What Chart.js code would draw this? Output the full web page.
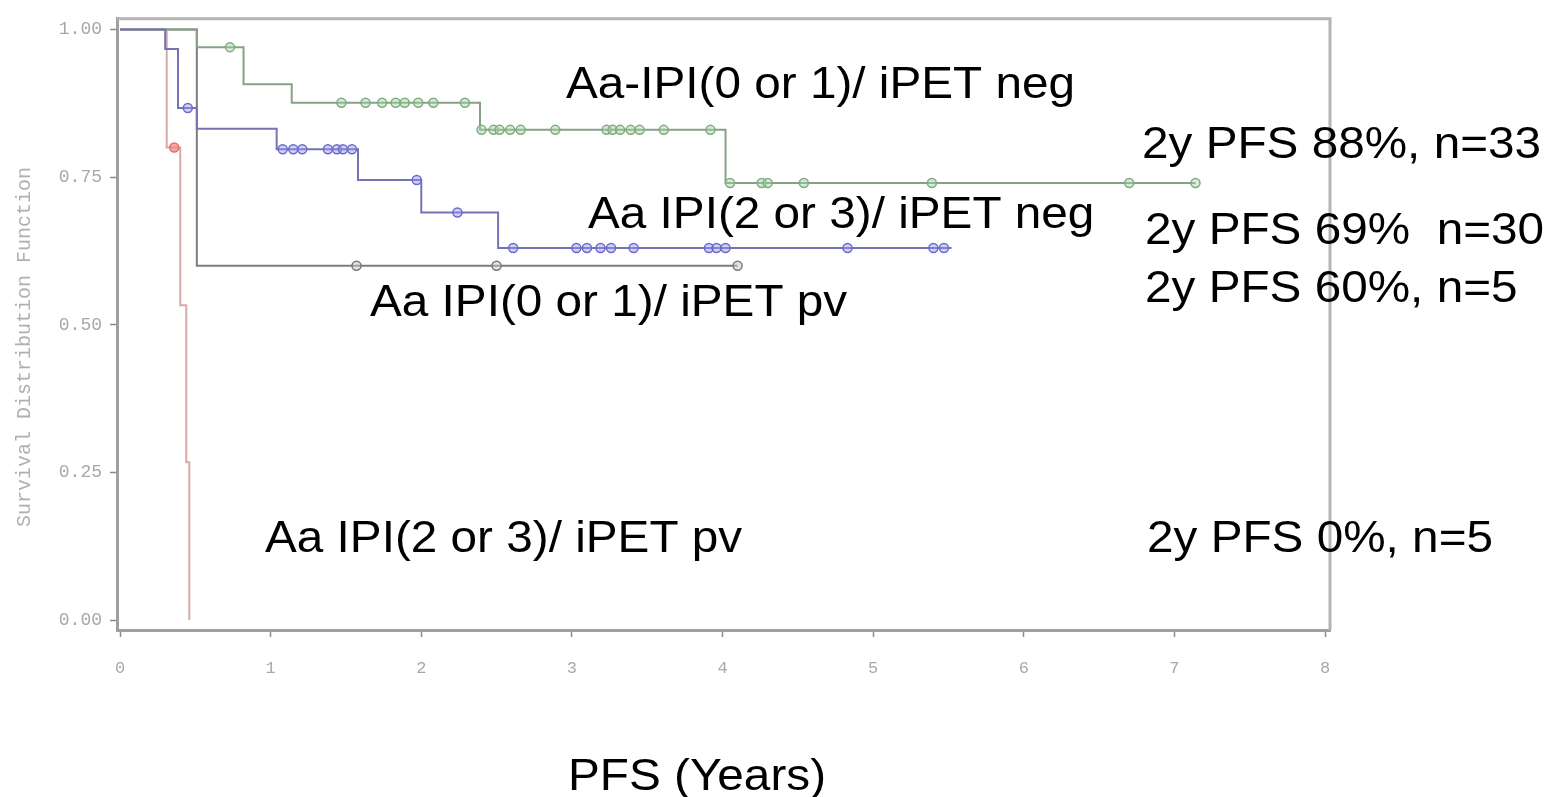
<!DOCTYPE html>
<html>
<head>
<meta charset="utf-8">
<script src="https://cdn.jsdelivr.net/npm/chart.js@4.4.0/dist/chart.umd.min.js"></script>
<style>
  html, body { margin: 0; padding: 0; background: #fff; }
</style>
</head>
<body>
<canvas id="grafico" width="1562" height="797"></canvas>
<script>
// Curvas de Kaplan-Meier: tiempos de evento (años) y supervivencia tras el evento
const greenTimes = [0, 0.51, 0.82, 1.14, 2.39, 4.02, 7.14];
const greenSurv = [1, 0.97, 0.907, 0.876, 0.83, 0.74, 0.74];
const greenCensored = [0.73, 1.47, 1.63, 1.74, 1.83, 1.89, 1.98, 2.08, 2.29,
  2.40, 2.48, 2.52, 2.59, 2.66, 2.89, 3.23, 3.27, 3.32, 3.39, 3.45, 3.61, 3.92,
  4.05, 4.26, 4.30, 4.54, 5.39, 6.70, 7.14];

const blueTimes = [0, 0.30, 0.385, 0.51, 1.04, 1.58, 2.0, 2.51, 5.52];
const blueSurv = [1, 0.967, 0.867, 0.832, 0.797, 0.745, 0.69, 0.63, 0.63];
const blueCensored = [0.45, 1.08, 1.15, 1.21, 1.38, 1.44, 1.48, 1.54, 1.97, 2.24,
  2.61, 3.03, 3.10, 3.19, 3.26, 3.41, 3.91, 3.96, 4.02, 4.83, 5.40, 5.47];

const grayTimes = [0, 0.51, 4.10];
const graySurv = [1, 0.6, 0.6];
const grayCensored = [1.57, 2.50, 4.10];

const redTimes = [0, 0.31, 0.40, 0.44, 0.46];
const redSurv = [1, 0.8, 0.533, 0.267, 0];
const redCensored = [0.36];

const xTickValues = [0, 1, 2, 3, 4, 5, 6, 7, 8];
const xTickLabels = ['0', '1', '2', '3', '4', '5', '6', '7', '8'];
const yTickValues = [0, 0.25, 0.5, 0.75, 1];
const yTickLabels = ['0.00', '0.25', '0.50', '0.75', '1.00'];

const yTitle = 'Survival Distribution Function';
const xTitle = 'PFS (Years)';
const labelTexts = [
  'Aa-IPI(0 or 1)/ iPET neg',
  '2y PFS 88%, n=33',
  'Aa IPI(2 or 3)/ iPET neg',
  '2y PFS 69%  n=30',
  '2y PFS 60%, n=5',
  'Aa IPI(0 or 1)/ iPET pv',
  'Aa IPI(2 or 3)/ iPET pv',
  '2y PFS 0%, n=5'
];
// posición (px) de cada texto: izquierda, línea base
const labelPos = [
  [566, 98], [1142, 158], [588, 228], [1145, 244],
  [1145, 302], [370, 316], [265, 552], [1147, 552]
];

function curvePoints(times, surv) {
  return times.map((t, i) => ({ x: t, y: surv[i] }));
}

// valor de la curva escalonada en el tiempo t
function stepValue(times, surv, t) {
  let v = surv[0];
  for (let i = 0; i < times.length; i++) {
    if (times[i] <= t) v = surv[i];
  }
  return v;
}

function censorPoints(cens, times, surv) {
  return cens.map(t => ({ x: t, y: stepValue(times, surv, t) }));
}

function lineSet(points, color) {
  return {
    data: points,
    borderColor: color,
    borderWidth: 2,
    stepped: 'before',
    pointRadius: 0,
    fill: false
  };
}

function markSet(points, border, fillColor) {
  return {
    data: points,
    showLine: false,
    pointStyle: 'circle',
    pointRadius: 4.5,
    pointBorderWidth: 1.5,
    pointBorderColor: border,
    pointBackgroundColor: fillColor
  };
}

const textosPlugin = {
  id: 'textos',
  afterDraw(chart) {
    const ctx = chart.ctx;
    const a = chart.chartArea;
    ctx.save();
    // marco superior y derecho
    ctx.strokeStyle = '#b4b4b4';
    ctx.lineWidth = 3;
    ctx.beginPath();
    ctx.moveTo(a.left, a.top);
    ctx.lineTo(a.right, a.top);
    ctx.lineTo(a.right, a.bottom);
    ctx.stroke();

    // título del eje y
    ctx.fillStyle = '#b0b0b0';
    ctx.font = '20px "Liberation Mono"';
    ctx.textAlign = 'center';
    ctx.textBaseline = 'middle';
    ctx.translate(25, 347);
    ctx.rotate(-Math.PI / 2);
    ctx.fillText(yTitle, 0, 0);
    ctx.restore();

    // textos grandes
    ctx.save();
    ctx.fillStyle = '#000';
    ctx.font = '45px "Liberation Sans"';
    ctx.textAlign = 'left';
    ctx.textBaseline = 'alphabetic';
    const all = labelTexts.concat([xTitle]);
    const pos = labelPos.concat([[568, 790]]);
    all.forEach((t, i) => {
      ctx.save();
      ctx.translate(pos[i][0], pos[i][1]);
      ctx.scale(1.06, 1);
      ctx.fillText(t, 0, 0);
      ctx.restore();
    });
    ctx.restore();
  }
};

const ctx = document.getElementById('grafico').getContext('2d');

new Chart(ctx, {
  type: 'line',
  data: {
    datasets: [
      markSet(censorPoints(blueCensored, blueTimes, blueSurv), '#6a6ad0', 'rgba(150,150,235,0.45)'),
      lineSet(curvePoints(blueTimes, blueSurv), '#7474b4'),
      markSet(censorPoints(greenCensored, greenTimes, greenSurv), '#80aa80', 'rgba(160,210,160,0.45)'),
      lineSet(curvePoints(greenTimes, greenSurv), '#86a286'),
      markSet(censorPoints(redCensored, redTimes, redSurv), '#e07070', 'rgba(240,130,130,0.7)'),
      lineSet(curvePoints(redTimes, redSurv), '#d9a9a9'),
      markSet(censorPoints(grayCensored, grayTimes, graySurv), '#7a7a7a', 'rgba(200,200,200,0.5)'),
      lineSet(curvePoints(grayTimes, graySurv), '#7c7c7c')
    ]
  },
  options: {
    responsive: false,
    animation: false,
    layout: { padding: { top: 13, right: 232, left: 0, bottom: 0 } },
    plugins: {
      legend: { display: false },
      tooltip: { enabled: false }
    },
    scales: {
      x: {
        type: 'linear',
        min: -0.02,
        max: 8.033,
        afterBuildTicks: s => { s.ticks = xTickValues.map(v => ({ value: v })); },
        afterFit: s => { s.height = 167; },
        ticks: {
          callback: (v, i) => xTickLabels[i],
          color: '#a8a8a8',
          font: { family: 'Liberation Mono', size: 17 },
          padding: 21,
          maxRotation: 0
        },
        grid: { drawOnChartArea: false, drawTicks: true, tickLength: 7, tickColor: '#8a8a8a', tickWidth: 1.5 },
        border: { color: '#a0a0a0', width: 3 }
      },
      y: {
        min: -0.0168,
        max: 1.018,
        afterBuildTicks: s => { s.ticks = yTickValues.map(v => ({ value: v })); },
        afterFit: s => { s.width = 117; },
        ticks: {
          callback: (v, i) => yTickLabels[i],
          color: '#a8a8a8',
          font: { family: 'Liberation Mono', size: 18 },
          padding: 8
        },
        grid: { drawOnChartArea: false, drawTicks: true, tickLength: 7, tickColor: '#8a8a8a', tickWidth: 1.5 },
        border: { color: '#a0a0a0', width: 3 }
      }
    }
  },
  plugins: [textosPlugin]
});
</script>
</body>
</html>
